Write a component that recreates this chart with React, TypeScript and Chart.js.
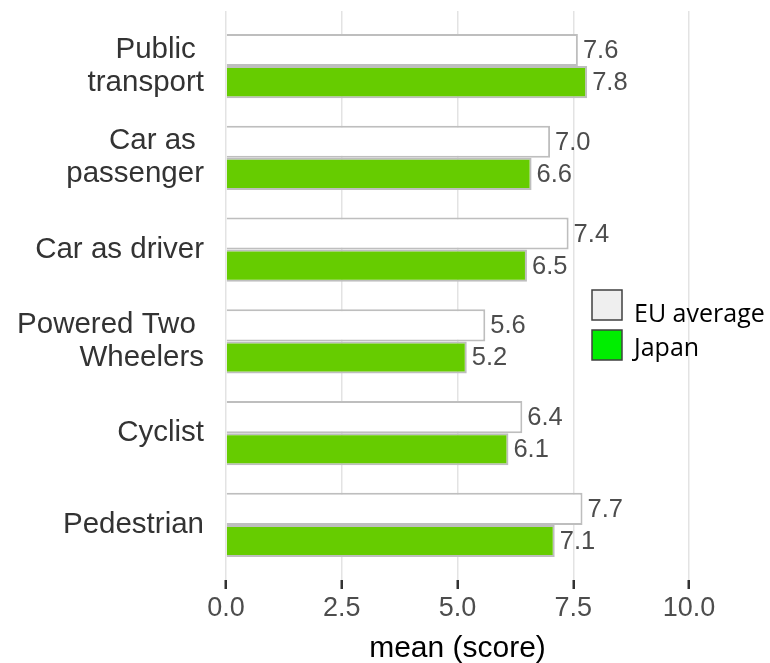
import React, { useEffect, useRef } from "react";
import { Chart, registerables } from "chart.js";

Chart.register(...registerables);

const categories: string[][] = [
  ["Public ", "transport"],
  ["Car as ", "passenger"],
  ["Car as driver"],
  ["Powered Two ", "Wheelers"],
  ["Cyclist"],
  ["Pedestrian"],
];
const euAverage: number[] = [7.6, 7.0, 7.4, 5.6, 6.4, 7.7];
const japan: number[] = [7.8, 6.6, 6.5, 5.2, 6.1, 7.1];
const xTicks: number[] = [0, 2.5, 5, 7.5, 10];
const seriesNames: string[] = ["EU average", "Japan"];

const AXIS_FONT = "'Liberation Sans', Arial, sans-serif";

const valueLabels = {
  id: "valueLabels",
  afterDatasetsDraw(chart: any) {
    const ctx = chart.ctx;
    ctx.save();
    ctx.font = `25.5px ${AXIS_FONT}`;
    ctx.fillStyle = "#4d4d4d";
    ctx.textAlign = "left";
    ctx.textBaseline = "middle";
    chart.data.datasets.forEach((ds: any, di: number) => {
      const meta = chart.getDatasetMeta(di);
      meta.data.forEach((bar: any, i: number) => {
        const v = ds.data[i].x;
        ctx.fillText(v.toFixed(1), bar.x + 5, bar.y + 1);
      });
    });
    ctx.restore();
  },
};

const customLegend = {
  id: "customLegend",
  afterDraw(chart: any) {
    const ctx = chart.ctx;
    ctx.save();
    const items = [
      { name: seriesNames[0], fill: "#efefef", y: 290, base: 322 },
      { name: seriesNames[1], fill: "#00ee00", y: 330, base: 356 },
    ];
    items.forEach((it) => {
      ctx.fillStyle = it.fill;
      ctx.fillRect(592, it.y, 30, 30);
      ctx.strokeStyle = "#404040";
      ctx.lineWidth = 1.5;
      ctx.strokeRect(592, it.y, 30, 30);
      ctx.fillStyle = "#000";
      ctx.font = "25px 'Open Sans', Lato, sans-serif";
      ctx.textAlign = "left";
      ctx.textBaseline = "alphabetic";
      ctx.fillText(it.name, 634, it.base);
    });
    ctx.restore();
  },
};

export default function App() {
  const canvasRef = useRef<HTMLCanvasElement | null>(null);

  useEffect(() => {
    if (!canvasRef.current) return;
    const chart = new Chart(canvasRef.current, {
      type: "bar",
      data: {
        datasets: [
          {
            label: seriesNames[0],
            data: euAverage.map((v, i) => ({ x: v, y: i })),
            backgroundColor: "#ffffff",
            borderColor: "#bebebe",
            borderWidth: 2,
            categoryPercentage: 0.7,
            barPercentage: 1.0,
          },
          {
            label: seriesNames[1],
            data: japan.map((v, i) => ({ x: v, y: i })),
            backgroundColor: "#66cc00",
            borderColor: "#bebebe",
            borderWidth: 2,
            categoryPercentage: 0.7,
            barPercentage: 1.0,
          },
        ],
      },
      options: {
        indexAxis: "y",
        animation: false,
        responsive: false,
        maintainAspectRatio: false,
        layout: { padding: { top: 11, right: 81, left: 0, bottom: 0 } },
        plugins: {
          legend: { display: false },
          tooltip: { enabled: false },
        },
        scales: {
          x: {
            type: "linear",
            min: 0,
            max: 10,
            afterBuildTicks: (scale: any) => {
              scale.ticks = xTicks.map((v) => ({ value: v }));
            },
            afterFit: (scale: any) => {
              scale.height = 83;
              scale.paddingLeft = 0;
              scale.paddingRight = 0;
            },
            border: { display: false },
            grid: {
              color: "#e3e3e3",
              lineWidth: 1.5,
              drawTicks: true,
              tickLength: 9,
              tickColor: "#333333",
              tickWidth: 2.5,
            },
            ticks: {
              color: "#4d4d4d",
              font: { family: AXIS_FONT, size: 27 },
              padding: 3,
              maxRotation: 0,
              callback: (v: any) => Number(v).toFixed(1),
            },
            title: {
              display: true,
              text: "mean (score)",
              color: "#000000",
              font: { family: AXIS_FONT, size: 30 },
              padding: { top: 0, bottom: -4 },
            },
          },
          y: {
            type: "linear",
            reverse: true,
            offset: false,
            min: -0.6,
            max: 5.6,
            afterBuildTicks: (scale: any) => {
              scale.ticks = categories.map((_, i) => ({ value: i }));
            },
            afterFit: (scale: any) => {
              scale.width = 226;
              scale.paddingTop = 0;
              scale.paddingBottom = 0;
            },
            border: { display: false },
            grid: { display: false, drawTicks: false },
            ticks: {
              color: "#333333",
              font: { family: AXIS_FONT, size: 29.5, lineHeight: 1.12 },
              padding: 22,
              autoSkip: false,
              callback: (v: any) => categories[Math.round(Number(v))] ?? "",
            },
          },
        },
      },
      plugins: [valueLabels, customLegend],
    });
    return () => chart.destroy();
  }, []);

  return (
    <div style={{ position: "fixed", left: 0, top: 0, width: 770, height: 663, background: "#fff" }}>
      <canvas ref={canvasRef} width={770} height={663} style={{ display: "block" }} />
    </div>
  );
}
